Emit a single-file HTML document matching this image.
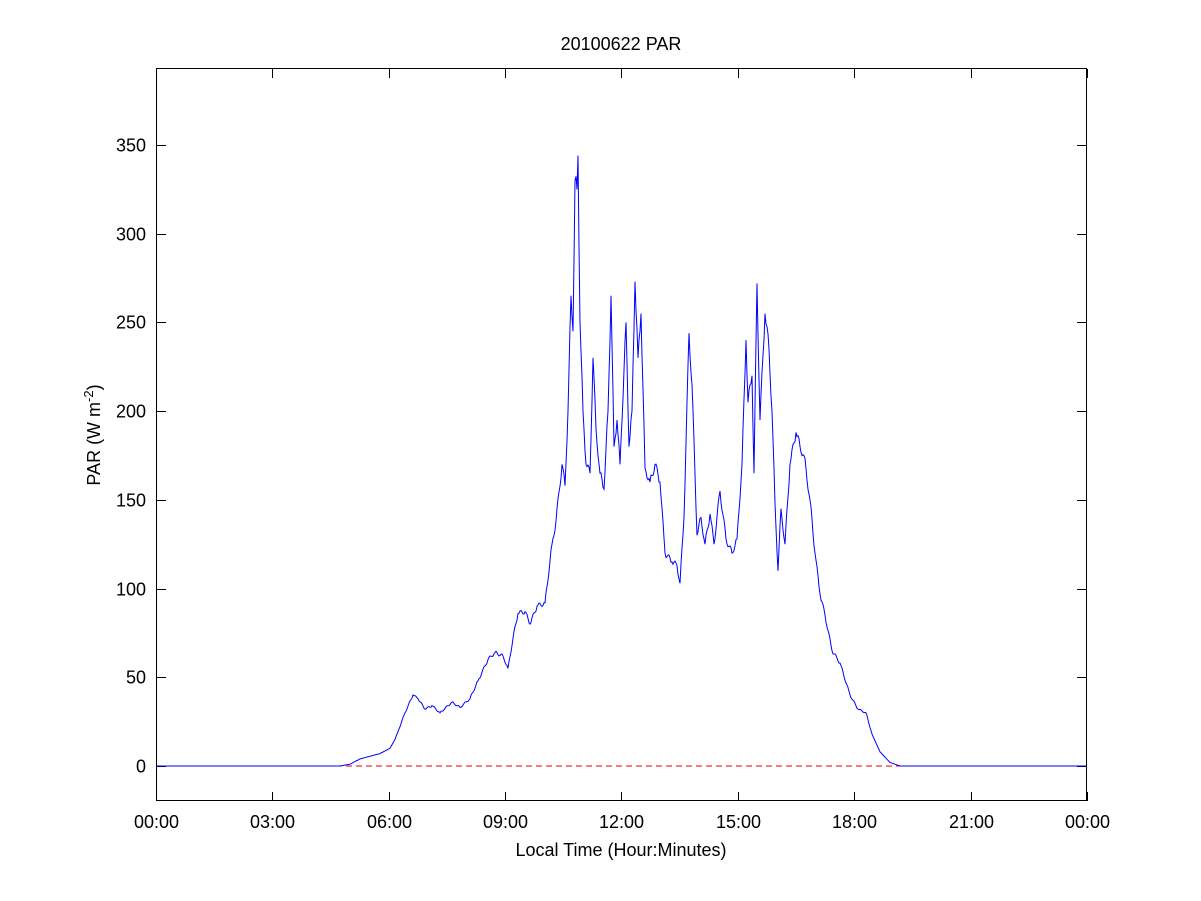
<!DOCTYPE html>
<html><head><meta charset="utf-8"><style>
html,body{margin:0;padding:0;background:#fff}
svg{display:block;font-family:"Liberation Sans",Arial,sans-serif}
</style></head><body>
<svg id="s" width="1201" height="901" viewBox="0 0 1201 901" xmlns="http://www.w3.org/2000/svg">
<rect width="1201" height="901" fill="#fff"/>
<g id="ticks" stroke="#000" stroke-width="1"></g>
<g id="labels" font-size="18" fill="#000"></g>
<line x1="156" y1="766" x2="1087" y2="766" stroke="#e00000" stroke-width="1" stroke-dasharray="6,4"/>
<polyline id="p" fill="none" stroke="#0000ff" stroke-width="1" points=""/>
<rect x="156.5" y="68.5" width="930" height="732" fill="none" stroke="#000" stroke-width="1"/>
<text x="621" y="50" font-size="18" text-anchor="middle">20100622 PAR</text>
<text x="621" y="856" font-size="18" text-anchor="middle">Local Time (Hour:Minutes)</text>
<text transform="translate(100,435) rotate(-90)" font-size="18" text-anchor="middle">PAR (W m<tspan dy="-7" font-size="13">-2</tspan><tspan dy="7">)</tspan></text>
</svg>
<script>
var X=function(h){return 156+h*38.79},Y=function(v){return 766-v*1.7743};
var t=document.getElementById('ticks'),l=document.getElementById('labels'),ns='http://www.w3.org/2000/svg';
function ln(a,b,c,d){var e=document.createElementNS(ns,'line');e.setAttribute('x1',a);e.setAttribute('y1',b);e.setAttribute('x2',c);e.setAttribute('y2',d);t.appendChild(e);}
function tx(x,y,s,anc){var e=document.createElementNS(ns,'text');e.setAttribute('x',x);e.setAttribute('y',y);e.setAttribute('text-anchor',anc);e.textContent=s;l.appendChild(e);}
var hl=['00:00','03:00','06:00','09:00','12:00','15:00','18:00','21:00','00:00'];
for(var i=0;i<=8;i++){var x=Math.round(X(i*3))+0.5;ln(x,801,x,792);ln(x,69,x,78);tx(x,828,hl[i],'middle');}
for(var v=0;v<=350;v+=50){var y=Math.round(Y(v))+0.5;ln(157,y,166,y);ln(1086,y,1077,y);tx(146,y+6,String(v),'end');}
var d=[[156,0],[340,0],[350,1],[360,4],[380,7],[390,10],[395,15],[405,30],[413,40],[418,38],[425,32],[432,34],[440,30],[452,36],[460,33],[470,38],[478,48],[488,60],[495,64],[503,62],[508,55],[513,72],[518,86],[525,87],[530,80],[537,90],[545,92],[552,125],[556,138],[562,170],[565,158],[568,200],[571,265],[573,245],[575,330],[577,325],[578,344],[580,250],[583,200],[586,170],[590,165],[593,230],[596,190],[600,165],[604,156],[608,200],[611,265],[614,180],[617,195],[620,170],[626,250],[629,180],[632,200],[635,273],[638,230],[641,255],[645,168],[650,160],[655,170],[660,160],[665,120],[672,115],[677,113],[680,103],[684,140],[689,244],[692,215],[697,130],[701,140],[705,125],[710,142],[714,125],[720,155],[726,128],[732,120],[737,128],[742,170],[746,240],[748,205],[752,220],[754,165],[757,272],[760,195],[765,255],[769,235],[772,200],[775,148],[778,110],[781,145],[785,125],[790,170],[796,188],[800,180],[804,175],[810,150],[815,120],[820,97],[825,85],[832,65],[840,58],[850,40],[858,32],[866,30],[872,18],[880,8],[890,2],[900,0],[1087,0]];
var pts=[];
for(var k=0;k<d.length-1;k++){var a=d[k],b=d[k+1];var n=Math.max(1,Math.round((b[0]-a[0])/1));for(var j=0;j<n;j++){var f=j/n,px=a[0]+(b[0]-a[0])*f,v=a[1]+(b[1]-a[1])*f;if(v>20&&j>0)v+=Math.sin(px*7.3)*v*0.015;pts.push(px.toFixed(1)+','+Y(v).toFixed(1));}}
pts.push('1087,'+Y(0).toFixed(1));
document.getElementById('p').setAttribute('points',pts.join(' '));
</script>
</body></html>
